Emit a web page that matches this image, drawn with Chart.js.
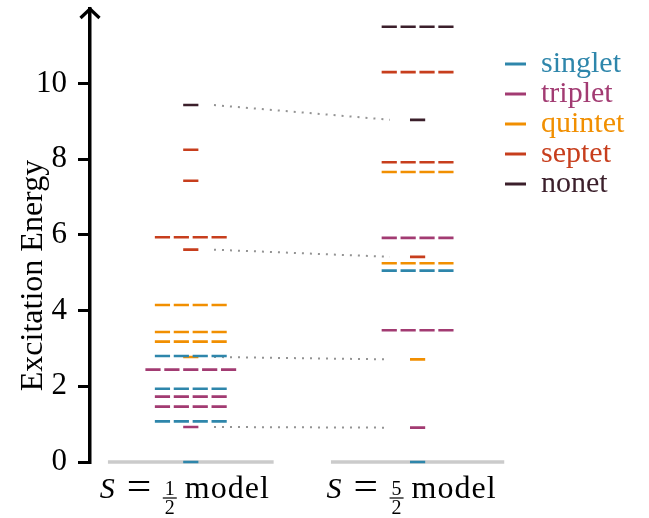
<!DOCTYPE html>
<html><head><meta charset="utf-8">
<script src="https://cdn.jsdelivr.net/npm/chart.js@4/dist/chart.umd.min.js"></script>
<style>html,body{margin:0;padding:0;background:#fff}canvas{display:block}</style>
</head><body>
<canvas id="c" width="649" height="518"></canvas>
<script>
// ---------------- data ----------------
const modelLabels = ['S = 1/2 model', 'S = 5/2 model'];
const multiplicities = ['singlet', 'triplet', 'quintet', 'septet', 'nonet'];
const multColors = ['#2E86AB', '#A23B72', '#F18F01', '#C73E1D', '#3B1F2B'];

// S = 1/2 model levels
const halfEnergy = [0, 0.925, 1.074, 1.462, 1.726, 1.937, 2.44, 2.774, 2.80, 3.18, 3.435, 4.148, 5.61, 5.936, 7.43, 8.25, 9.43];
const halfSpin   = ['singlet','triplet','singlet','triplet','triplet','singlet','triplet','quintet','singlet','quintet','quintet','quintet','septet','septet','septet','septet','nonet'];
const halfCount  = [1, 1, 4, 4, 4, 4, 5, 1, 4, 4, 4, 4, 1, 4, 1, 1, 1];

// S = 5/2 model levels
const fiveEnergy = [0, 0.907, 2.71, 3.48, 5.055, 5.25, 5.42, 5.92, 7.66, 7.92, 9.04, 10.30, 11.50];
const fiveSpin   = ['singlet','triplet','quintet','triplet','singlet','quintet','septet','triplet','quintet','septet','nonet','septet','nonet'];
const fiveCount  = [1, 1, 1, 4, 4, 4, 1, 4, 4, 4, 1, 4, 4];

// correspondence between the two models (dotted links)
const linkFrom = [0.925, 2.774, 5.61, 9.43];
const linkTo   = [0.907, 2.71, 5.42, 9.04];

const yTicks = [0, 2, 4, 6, 8, 10];
const yLabel = 'Excitation Energy';

// ---------------- layout constants ----------------
const SERIF = '"Liberation Serif", "Times New Roman", serif';
const X_MIN = 0.5556, X_MAX = 2.3854, Y_MAX = 11.968;
const PITCH = 0.0833, HALF = 0.0335;
const BASE_HALF = [0.3653, 0.382];
const LINK_OFF = [0.1023, 0.1217];

const models = [
  {col: 1, energy: halfEnergy, spin: halfSpin, count: halfCount},
  {col: 2, energy: fiveEnergy, spin: fiveSpin, count: fiveCount}
];

function dashPoints(mult) {
  const pts = [];
  models.forEach(m => {
    m.energy.forEach((e, i) => {
      if (m.spin[i] !== mult) return;
      const n = m.count[i];
      for (let j = 0; j < n; j++) {
        const c = m.col + (j - (n - 1) / 2) * PITCH;
        pts.push({x: c - HALF, y: e}, {x: c + HALF, y: e}, {x: c, y: null});
      }
    });
  });
  return pts;
}
function linkPoints() {
  const pts = [];
  linkFrom.forEach((e, i) => {
    pts.push({x: 1 + LINK_OFF[0], y: e}, {x: 2 - LINK_OFF[1], y: linkTo[i]}, {x: 1.5, y: null});
  });
  return pts;
}
function basePoints() {
  const pts = [];
  models.forEach((m, k) => {
    pts.push({x: m.col - BASE_HALF[k], y: 0}, {x: m.col + BASE_HALF[k], y: 0}, {x: m.col, y: null});
  });
  return pts;
}

const datasets = multiplicities.map((m, i) => ({
  label: m, data: dashPoints(m), borderColor: multColors[i], backgroundColor: multColors[i],
  borderWidth: 2.6, pointRadius: 0, spanGaps: false, clip: false, tension: 0
}));
datasets.push({label: 'links', data: linkPoints(), borderColor: '#939393', borderWidth: 2,
  borderDash: [2, 6], pointRadius: 0, spanGaps: false, clip: false});
datasets.push({label: 'base', data: basePoints(), borderColor: '#cbcbcb', borderWidth: 3.5,
  pointRadius: 0, spanGaps: false, clip: false});

const decor = {
  id: 'decor',
  afterDraw(chart) {
    const ctx = chart.ctx;
    const ca = chart.chartArea;
    const ax = chart.scales.y.right;
    ctx.save();
    // arrow head on the y axis
    ctx.strokeStyle = '#000'; ctx.lineWidth = 3.2; ctx.lineJoin = 'miter'; ctx.lineCap = 'butt';
    ctx.beginPath();
    ctx.moveTo(ax - 9.5, ca.top + 9); ctx.lineTo(ax, ca.top); ctx.lineTo(ax + 9.5, ca.top + 9);
    ctx.stroke();
    // y title
    ctx.fillStyle = '#000';
    ctx.font = '32px ' + SERIF;
    ctx.textAlign = 'center'; ctx.textBaseline = 'alphabetic';
    ctx.translate(41.5, 275.5); ctx.rotate(-Math.PI / 2);
    ctx.fillText(yLabel, 0, 0);
    ctx.restore();
    // x labels
    const xs = chart.scales.x;
    models.forEach((m, i) => drawModelLabel(ctx, xs.getPixelForValue(m.col), modelLabels[i]));
  }
};

function drawModelLabel(ctx, px, label) {
  const [sym, eq, frac, word] = label.split(' ');
  const [num, den] = frac.split('/');
  const base = 498;
  ctx.save();
  ctx.fillStyle = '#000';
  ctx.textBaseline = 'alphabetic';
  ctx.textAlign = 'left';
  ctx.font = 'italic 30px ' + SERIF;
  ctx.fillText(sym, px - 91, base);
  ctx.font = '30px ' + SERIF;
  ctx.save(); ctx.translate(px - 64, base + 1.5); ctx.scale(1.45, 1.3); ctx.fillText(eq, 0, 0); ctx.restore();
  ctx.textAlign = 'center';
  ctx.font = '20px ' + SERIF;
  const fx = px - 21;
  ctx.fillText(num, fx, 494.5);
  ctx.fillText(den, fx, 513.5);
  ctx.fillRect(fx - 7, 497.4, 14, 1.2);
  ctx.textAlign = 'left';
  ctx.font = '32px ' + SERIF;
  if ('letterSpacing' in ctx) ctx.letterSpacing = '1px';
  ctx.fillText(word, px - 6, base);
  ctx.restore();
}

new Chart(document.getElementById('c'), {
  type: 'line',
  data: {datasets},
  options: {
    responsive: false,
    animation: false,
    devicePixelRatio: 1,
    layout: {padding: {left: 0, top: 9, right: 24, bottom: 56}},
    scales: {
      x: {type: 'linear', min: X_MIN, max: X_MAX, display: false},
      y: {
        type: 'linear', min: 0, max: Y_MAX,
        afterFit: s => { s.width = 90; s.paddingTop = 0; s.paddingBottom = 0; },
        afterBuildTicks: s => { s.ticks = yTicks.map(v => ({value: v})); },
        border: {display: true, color: '#000', width: 3.5},
        grid: {display: true, drawOnChartArea: false, drawTicks: true, tickLength: 12, color: '#000', lineWidth: 3},
        ticks: {color: '#000', padding: 11, font: {family: SERIF, size: 31}, callback: v => String(v)}
      }
    },
    plugins: {
      tooltip: {enabled: false},
      legend: {
        position: 'right', align: 'start', maxWidth: 120,
        title: {display: true, text: ' ', font: {size: 10, lineHeight: 1}, padding: {top: 30, bottom: 0}},
        labels: {
          boxWidth: 21, boxHeight: 3, padding: 0,
          font: {family: SERIF, size: 30},
          generateLabels: () => multiplicities.map((m, i) => ({
            text: m, fillStyle: multColors[i], strokeStyle: multColors[i], lineWidth: 0,
            fontColor: multColors[i], hidden: false, datasetIndex: i
          }))
        }
      }
    }
  },
  plugins: [decor]
});
</script>
</body></html>
